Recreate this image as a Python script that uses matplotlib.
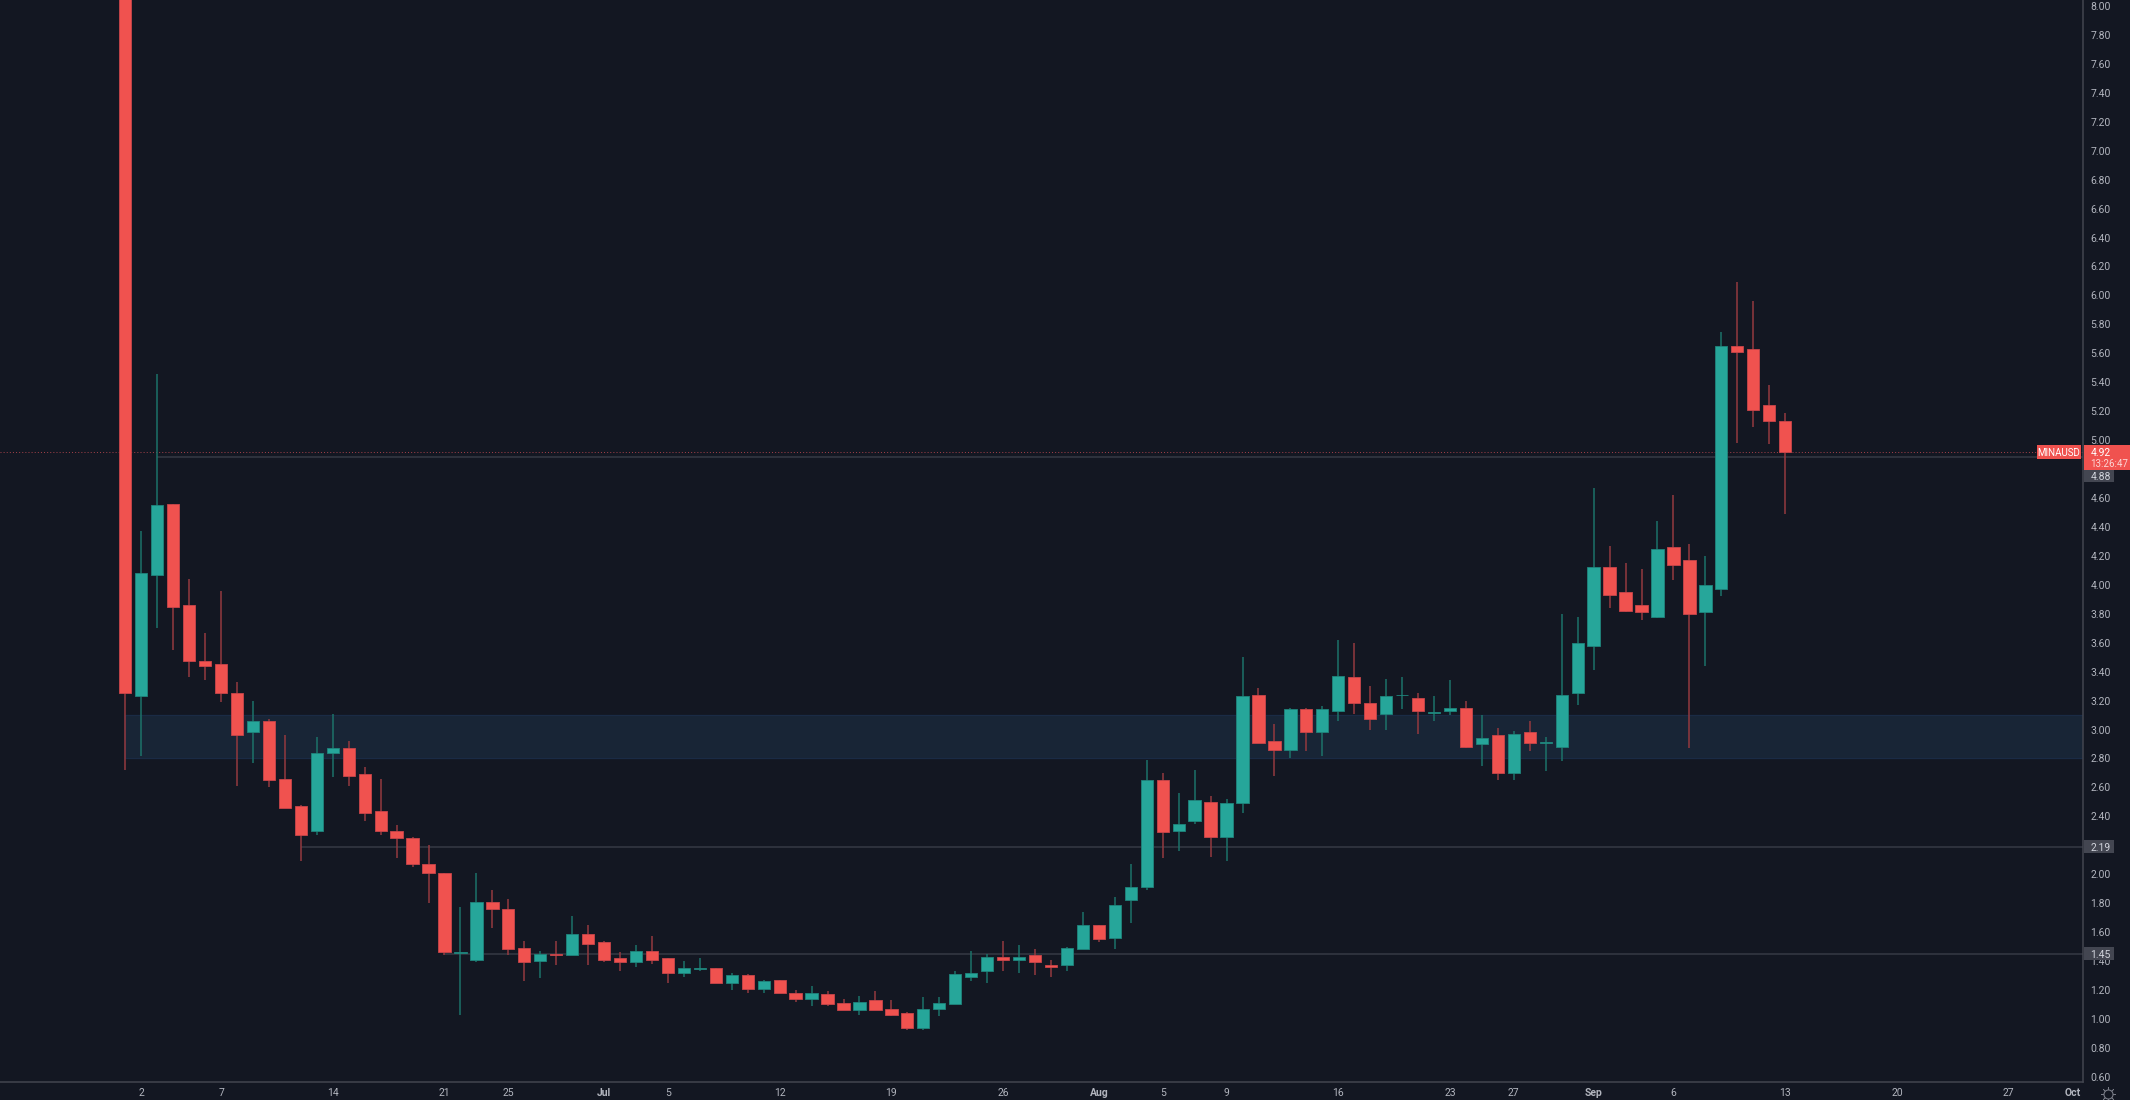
import matplotlib
matplotlib.use('Agg')
import matplotlib.pyplot as plt
from matplotlib.patches import Rectangle

plt.rcParams['font.family'] = ['Roboto', 'DejaVu Sans']

# daily MINAUSD candles, 1 Jun - 13 Sep
opens = [9.60, 3.23, 4.07, 4.56, 3.86, 3.47, 3.45, 3.25, 2.98, 3.06,
         2.66, 2.47, 2.30, 2.84, 2.87, 2.69, 2.44, 2.30, 2.25, 2.07,
         2.01, 1.455, 1.41, 1.81, 1.76, 1.49, 1.40, 1.45, 1.44, 1.59,
         1.53, 1.42, 1.39, 1.47, 1.42, 1.32, 1.345, 1.35, 1.25, 1.30,
         1.21, 1.27, 1.18, 1.14, 1.17, 1.11, 1.06, 1.13, 1.07, 1.04,
         0.94, 1.07, 1.10, 1.29, 1.33, 1.43, 1.41, 1.44, 1.37, 1.37,
         1.48, 1.65, 1.56, 1.82, 1.91, 2.65, 2.30, 2.37, 2.50, 2.26,
         2.49, 3.24, 2.92, 2.86, 3.14, 2.98, 3.13, 3.36, 3.18, 3.11,
         3.235, 3.22, 3.117, 3.13, 3.15, 2.90, 2.96, 2.70, 2.98, 2.909,
         2.88, 3.25, 3.58, 4.12, 3.95, 3.86, 3.78, 4.26, 4.17, 3.81,
         3.97, 5.65, 5.63, 5.24, 5.13]
highs = [9.60, 4.37, 5.46, 4.56, 4.04, 3.67, 3.96, 3.33, 3.20, 3.07,
         2.96, 2.48, 2.95, 3.11, 2.92, 2.74, 2.66, 2.34, 2.26, 2.20,
         2.01, 1.77, 2.01, 1.89, 1.83, 1.54, 1.47, 1.54, 1.71, 1.65,
         1.54, 1.46, 1.51, 1.57, 1.42, 1.40, 1.42, 1.35, 1.32, 1.31,
         1.27, 1.27, 1.20, 1.23, 1.19, 1.14, 1.16, 1.19, 1.13, 1.05,
         1.15, 1.15, 1.33, 1.47, 1.45, 1.54, 1.51, 1.48, 1.41, 1.50,
         1.74, 1.65, 1.84, 2.07, 2.79, 2.70, 2.56, 2.72, 2.54, 2.52,
         3.50, 3.29, 3.04, 3.15, 3.15, 3.16, 3.62, 3.60, 3.30, 3.35,
         3.36, 3.25, 3.23, 3.34, 3.20, 3.10, 3.01, 2.99, 3.06, 2.95,
         3.80, 3.78, 4.67, 4.27, 4.15, 4.11, 4.44, 4.62, 4.28, 4.20,
         5.75, 6.09, 5.96, 5.38, 5.19]
lows = [2.72, 2.82, 3.70, 3.55, 3.36, 3.34, 3.19, 2.61, 2.77, 2.60,
        2.46, 2.09, 2.27, 2.67, 2.61, 2.37, 2.27, 2.11, 2.05, 1.80,
        1.44, 1.03, 1.39, 1.63, 1.44, 1.26, 1.28, 1.37, 1.44, 1.37,
        1.39, 1.33, 1.36, 1.38, 1.25, 1.29, 1.33, 1.25, 1.20, 1.18,
        1.18, 1.18, 1.12, 1.09, 1.09, 1.06, 1.03, 1.06, 1.02, 0.92,
        0.92, 1.02, 1.10, 1.26, 1.25, 1.33, 1.32, 1.30, 1.29, 1.33,
        1.48, 1.53, 1.48, 1.66, 1.89, 2.11, 2.16, 2.35, 2.12, 2.09,
        2.42, 2.91, 2.68, 2.80, 2.85, 2.82, 3.06, 3.11, 3.00, 3.00,
        3.14, 2.97, 3.06, 3.10, 2.87, 2.75, 2.65, 2.65, 2.85, 2.71,
        2.78, 3.17, 3.41, 3.84, 3.81, 3.76, 3.77, 4.03, 2.87, 3.44,
        3.92, 4.98, 5.09, 4.97, 4.49]
closes = [3.25, 4.08, 4.55, 3.85, 3.47, 3.44, 3.25, 2.96, 3.06, 2.65,
          2.46, 2.27, 2.84, 2.87, 2.68, 2.42, 2.30, 2.25, 2.07, 2.01,
          1.46, 1.46, 1.81, 1.76, 1.48, 1.39, 1.45, 1.44, 1.59, 1.52,
          1.41, 1.39, 1.47, 1.41, 1.32, 1.35, 1.35, 1.25, 1.30, 1.21,
          1.26, 1.18, 1.14, 1.18, 1.10, 1.06, 1.12, 1.06, 1.03, 0.94,
          1.07, 1.11, 1.31, 1.32, 1.43, 1.41, 1.43, 1.39, 1.36, 1.49,
          1.65, 1.55, 1.79, 1.91, 2.65, 2.29, 2.35, 2.51, 2.26, 2.49,
          3.23, 2.91, 2.86, 3.14, 2.98, 3.14, 3.37, 3.18, 3.07, 3.23,
          3.24, 3.13, 3.121, 3.15, 2.88, 2.94, 2.70, 2.97, 2.91, 2.914,
          3.24, 3.60, 4.12, 3.93, 3.82, 3.81, 4.25, 4.14, 3.80, 4.00,
          5.65, 5.61, 5.21, 5.13, 4.92]

# x labels: bar index counted from 1 Jun
tick_pos = [1, 6, 13, 20, 24, 30, 34, 41, 48, 55, 61, 65, 69, 76, 83, 87, 92, 97, 104, 111, 118, 122]
tick_txt = ['2', '7', '14', '21', '25', 'Jul', '5', '12', '19', '26', 'Aug', '5', '9', '16', '23', '27',
            'Sep', '6', '13', '20', '27', 'Oct']
price_ticks = [0.60, 0.80, 1.00, 1.20, 1.40, 1.60, 1.80, 2.00, 2.20, 2.40, 2.60, 2.80, 3.00, 3.20, 3.40,
               3.60, 3.80, 4.00, 4.20, 4.40, 4.60, 4.80, 5.00, 5.20, 5.40, 5.60, 5.80, 6.00, 6.20, 6.40,
               6.60, 6.80, 7.00, 7.20, 7.40, 7.60, 7.80, 8.00]

# drawn levels: value, first bar of the line
levels = [(4.88, 2), (2.19, 11), (1.45, 20)]
zone_low, zone_high = 2.80, 3.10
last_price = 4.92

bg = '#131722'
red = '#f0524f'
green = '#26a69a'
red_wick = '#93393f'
green_wick = '#1c7269'
axis_col = '#42454f'
txt_col = '#b2b5be'
W, H = 2130, 1100
AX_W, AX_H = 2082.5, 1081.5

fig = plt.figure(figsize=(W / 100, H / 100), dpi=100, facecolor=bg)
ax = fig.add_axes([0, 1 - AX_H / H, AX_W / W, AX_H / H], facecolor=bg)
ax.set_xlim(-7.85, 122.63)
ax.set_ylim(0.5674, 8.0415)

# zone and levels sit under the candles
ax.add_patch(Rectangle((0, zone_low), 122.63, zone_high - zone_low, facecolor='#182536',
                       edgecolor='#1a2b45', linewidth=0.9, zorder=1))
for val, start in levels:
    ax.hlines(val, start, 122.63, color='#363a45', linewidth=1.1, zorder=2)
ax.axhline(last_price, color='#a8424a', linewidth=0.7, linestyle=(0, (1, 2.2)), zorder=2)

for i in range(len(opens)):
    up = closes[i] >= opens[i]
    ax.vlines(i, lows[i], highs[i], color=green_wick if up else red_wick, linewidth=1.1, zorder=3)
    bottom = min(opens[i], closes[i])
    ax.bar(i, abs(closes[i] - opens[i]), bottom=bottom, width=0.77, color=green if up else red,
           edgecolor='#1f857c' if up else '#c9454a', linewidth=0.6, zorder=4)

ax.yaxis.tick_right()
ax.set_yticks(price_ticks)
ax.set_yticklabels([f'{p:.2f}' for p in price_ticks], fontsize=7.5, color=txt_col)
ax.set_xticks(tick_pos)
ax.set_xticklabels(tick_txt, fontsize=7.5, color=txt_col)
for lab in ax.get_xticklabels():
    if lab.get_text() in ('Jul', 'Aug', 'Sep', 'Oct'):
        lab.set_fontweight('bold')
ax.tick_params(axis='y', length=0, pad=5.8)
ax.tick_params(axis='x', length=0, pad=4.5)
for side in ('top', 'left'):
    ax.spines[side].set_visible(False)
for side in ('right', 'bottom'):
    ax.spines[side].set_color(axis_col)
    ax.spines[side].set_linewidth(1.1)

# labels in the price scale
trans = ax.get_yaxis_transform()
px_x = 1 / AX_W
px_y = (8.0415 - 0.5674) / AX_H


def price_box(x0, x1, val, up, down, color):
    ax.add_patch(Rectangle((1 + x0 * px_x, val - down * px_y), (x1 - x0) * px_x, (up + down) * px_y,
                           transform=trans, facecolor=color, edgecolor='none', clip_on=False, zorder=6))


# the 4.88 tag is pushed below the last price tag, so it sits lower than its line
for val, shift in [(4.88, 18.5), (2.19, 0), (1.45, 0)]:
    pos = val - shift * px_y
    price_box(1, 31, pos, 6.5, 6.5, '#434651')
    ax.text(1 + 8 * px_x, pos, f'{val:.2f}', transform=trans, fontsize=7.5, color='#d1d4dc',
            ha='left', va='center_baseline', zorder=7)

price_box(1, 47.5, last_price, 6.5, 18, red)
price_box(-45.5, -1.5, last_price, 6.5, 7.5, red)
ax.text(1 + 8 * px_x, last_price, f'{last_price:.2f}', transform=trans, fontsize=7.5, color='white',
        ha='left', va='center_baseline', zorder=7)
ax.text(1 + 8 * px_x, last_price - 11 * px_y, '13:26:47', transform=trans, fontsize=7, color='#fbd5d4',
        ha='left', va='center_baseline', zorder=7)
ax.text(1 - 23.5 * px_x, last_price, 'MINAUSD', transform=trans, fontsize=7, color='white',
        ha='center', va='center_baseline', zorder=7)

# settings icon, bottom right
ax.plot([1 + 25 * px_x], [0.5674 - 12.5 * px_y], marker=(8, 2, 0), markersize=10.5,
        markeredgecolor='#787b86', markeredgewidth=0.5, transform=trans, clip_on=False, zorder=1)
ax.plot([1 + 25 * px_x], [0.5674 - 12.5 * px_y], marker='o', markersize=6.5, markerfacecolor=bg,
        markeredgecolor='#787b86', markeredgewidth=0.8, transform=trans, clip_on=False, zorder=2)

plt.savefig('out.png', dpi=100, facecolor=bg)
